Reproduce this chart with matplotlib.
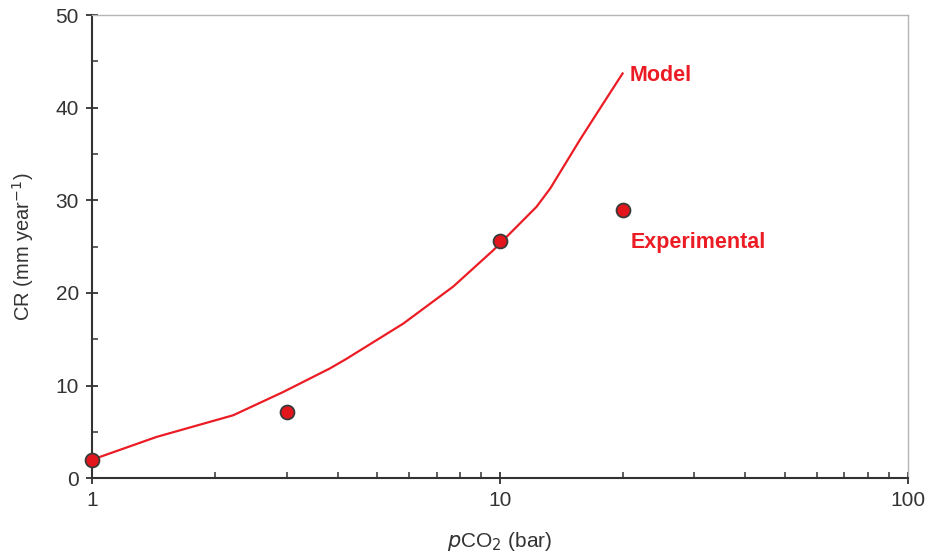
import matplotlib
matplotlib.use("Agg")
import matplotlib.pyplot as plt
from matplotlib.ticker import FixedLocator, NullFormatter, FuncFormatter, MultipleLocator

plt.rcParams['font.family'] = ['Liberation Sans', 'DejaVu Sans']

# model curve
model_p = [1, 1.44, 2.22, 2.94, 3.83, 4.21, 5.80, 7.69, 9.63, 11.2, 12.3, 13.3, 15.7, 17.3, 20]
model_cr = [2.0, 4.46, 6.8, 9.3, 11.85, 12.9, 16.7, 20.7, 24.6, 27.5, 29.3, 31.3, 36.5, 39.4, 43.7]

# experimental points
exp_p = [1, 3, 10, 20]
exp_cr = [2.0, 7.2, 25.6, 29.0]

red = '#ec1c24'
dark = '#333333'

fig = plt.figure(figsize=(9.29, 5.6), dpi=100)
ax = fig.add_axes([0.099, 0.146, 0.878, 0.827])

ax.plot(model_p, model_cr, color=red, lw=1.6, zorder=2)
ax.plot(exp_p, exp_cr, 'o', ms=10, mfc='#e3161d', mec='#3a3a3a', mew=1.3,
        zorder=3, clip_on=False)

ax.set_xscale('log')
ax.set_xlim(1, 100)
ax.set_ylim(0, 50)

ax.xaxis.set_major_locator(FixedLocator([1, 10, 100]))
ax.xaxis.set_major_formatter(FuncFormatter(lambda v, p: '%g' % v))
ax.xaxis.set_minor_locator(FixedLocator([m * d for d in (1, 10) for m in range(2, 10)]))
ax.xaxis.set_minor_formatter(NullFormatter())
ax.yaxis.set_major_locator(MultipleLocator(10))
ax.yaxis.set_minor_locator(MultipleLocator(5))

ax.tick_params(which='major', direction='inout', length=9, width=1.3,
               color=dark, labelsize=15, labelcolor=dark, pad=5)
ax.tick_params(which='minor', direction='in', length=4, width=1.1, color=dark)

for s in ('left', 'bottom'):
    ax.spines[s].set_color(dark)
    ax.spines[s].set_linewidth(1.5)
for s in ('top', 'right'):
    ax.spines[s].set_color('#b5b5b5')
    ax.spines[s].set_linewidth(1.0)

ax.set_xlabel(r'$p$CO$_2$ (bar)', fontsize=15, color=dark, labelpad=14)
ax.set_ylabel(r'CR (mm year$^{-1}$)', fontsize=14.5, color=dark, labelpad=14)

ax.text(20.8, 43.5, 'Model', color=red, fontsize=15.5, fontweight='bold',
        va='center', ha='left')
ax.text(20.9, 25.4, 'Experimental', color=red, fontsize=15.5, fontweight='bold',
        va='center', ha='left')

fig.savefig('out.png', dpi=100)
